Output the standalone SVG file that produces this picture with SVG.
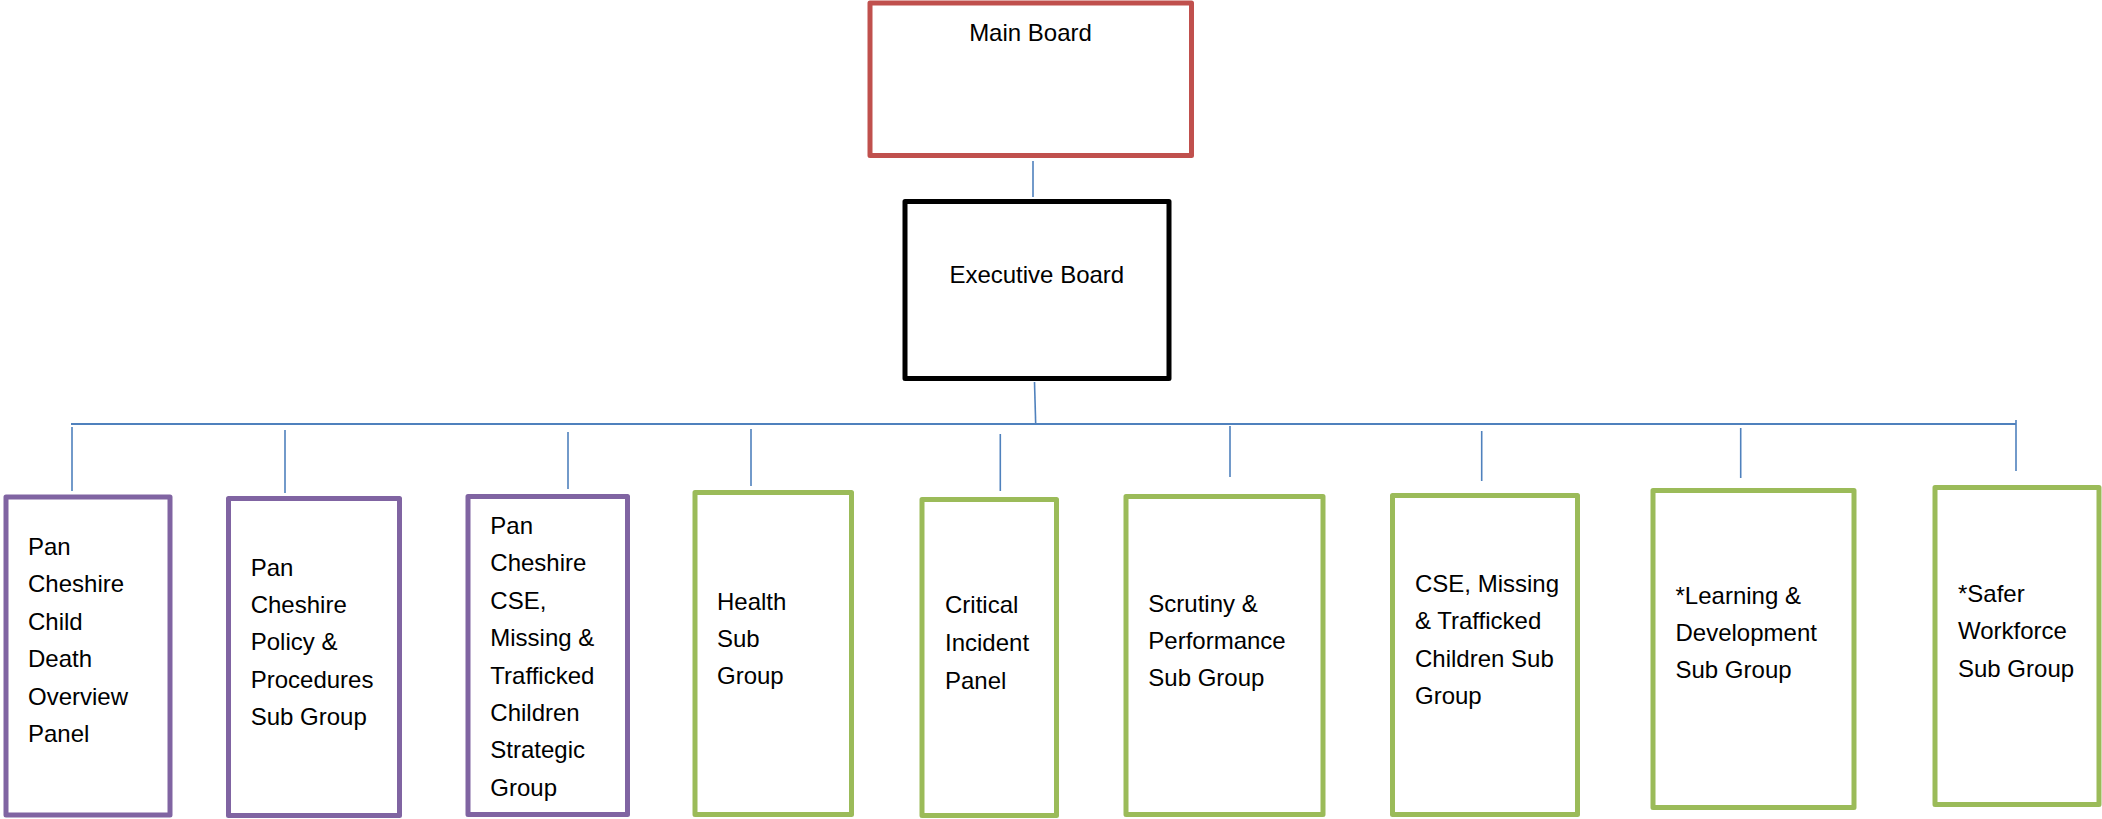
<svg xmlns="http://www.w3.org/2000/svg" width="2102" height="819" viewBox="0 0 2102 819">
<style>
  .box { fill: #ffffff; stroke-width: 5; stroke-linejoin: round; }
  .red { stroke: #C0504D; }
  .black { stroke: #000000; }
  .purple { stroke: #8064A2; }
  .green { stroke: #9BBB59; }
  .lbl { font-family: "Liberation Sans", Arial, sans-serif; font-size: 24px; fill: #000000; }
  .mid { text-anchor: middle; }
  .bus { stroke: #4F81BD; stroke-width: 2.2; fill: none; }
  .tick { stroke: #4F81BD; stroke-width: 1.6; fill: none; }
</style>
<rect width="2102" height="819" fill="#ffffff"/>
<g id="connectors">
  <line class="tick" x1="1033" y1="161" x2="1033" y2="197"/>
  <line class="tick" x1="1034.5" y1="382" x2="1035.7" y2="424"/>
  <line class="bus" x1="71" y1="424" x2="2016" y2="424"/>
  <line class="tick" x1="72" y1="427" x2="72" y2="491"/>
  <line class="tick" x1="285" y1="430" x2="285" y2="493"/>
  <line class="tick" x1="568" y1="432" x2="568" y2="489"/>
  <line class="tick" x1="751" y1="429" x2="751" y2="486"/>
  <line class="tick" x1="1000.3" y1="434" x2="1000.3" y2="491"/>
  <line class="tick" x1="1230" y1="426" x2="1230" y2="477"/>
  <line class="tick" x1="1481.7" y1="431" x2="1481.7" y2="481"/>
  <line class="tick" x1="1740.7" y1="428" x2="1740.7" y2="478"/>
  <line class="tick" x1="2016" y1="420" x2="2016" y2="471"/>
</g>
<g id="main-board">
  <rect class="box red" x="870" y="3" width="321.5" height="152.5"/>
  <text class="lbl mid" x="1030.5" y="41">Main Board</text>
</g>
<g id="executive-board">
  <rect class="box black" x="905" y="201.5" width="264" height="177"/>
  <text class="lbl mid" x="1036.8" y="283">Executive Board</text>
</g>
<g id="child-death-overview">
  <rect class="box purple" x="6" y="497" width="164" height="318"/>
  <text class="lbl" x="28" y="555"><tspan x="28">Pan</tspan><tspan x="28" dy="37.4">Cheshire</tspan><tspan x="28" dy="37.4">Child</tspan><tspan x="28" dy="37.4">Death</tspan><tspan x="28" dy="37.4">Overview</tspan><tspan x="28" dy="37.4">Panel</tspan></text>
</g>
<g id="policy-procedures">
  <rect class="box purple" x="228.5" y="498.5" width="171" height="317"/>
  <text class="lbl" x="250.7" y="576"><tspan x="250.7">Pan</tspan><tspan x="250.7" dy="37.2">Cheshire</tspan><tspan x="250.7" dy="37.2">Policy &amp;</tspan><tspan x="250.7" dy="37.2">Procedures</tspan><tspan x="250.7" dy="37.2">Sub Group</tspan></text>
</g>
<g id="cse-strategic">
  <rect class="box purple" x="468" y="496.5" width="159.5" height="318"/>
  <text class="lbl" x="490.3" y="534"><tspan x="490.3">Pan</tspan><tspan x="490.3" dy="37.4">Cheshire</tspan><tspan x="490.3" dy="37.4">CSE,</tspan><tspan x="490.3" dy="37.4">Missing &amp;</tspan><tspan x="490.3" dy="37.4">Trafficked</tspan><tspan x="490.3" dy="37.4">Children</tspan><tspan x="490.3" dy="37.4">Strategic</tspan><tspan x="490.3" dy="37.4">Group</tspan></text>
</g>
<g id="health">
  <rect class="box green" x="695" y="492.5" width="156.5" height="322"/>
  <text class="lbl" x="717" y="610"><tspan x="717">Health</tspan><tspan x="717" dy="37.2">Sub</tspan><tspan x="717" dy="37.2">Group</tspan></text>
</g>
<g id="critical-incident">
  <rect class="box green" x="922" y="499.5" width="134.5" height="316"/>
  <text class="lbl" x="945" y="613"><tspan x="945">Critical</tspan><tspan x="945" dy="38">Incident</tspan><tspan x="945" dy="38">Panel</tspan></text>
</g>
<g id="scrutiny-performance">
  <rect class="box green" x="1126" y="496.5" width="197" height="318"/>
  <text class="lbl" x="1148.3" y="612"><tspan x="1148.3">Scrutiny &amp;</tspan><tspan x="1148.3" dy="37">Performance</tspan><tspan x="1148.3" dy="37">Sub Group</tspan></text>
</g>
<g id="cse-missing-trafficked">
  <rect class="box green" x="1392.5" y="495.5" width="185" height="319"/>
  <text class="lbl" x="1415" y="592"><tspan x="1415">CSE, Missing</tspan><tspan x="1415" dy="37.4">&amp; Trafficked</tspan><tspan x="1415" dy="37.4">Children Sub</tspan><tspan x="1415" dy="37.4">Group</tspan></text>
</g>
<g id="learning-development">
  <rect class="box green" x="1653" y="490.5" width="201" height="317"/>
  <text class="lbl" x="1675.5" y="604"><tspan x="1675.5">*Learning &amp;</tspan><tspan x="1675.5" dy="37.2">Development</tspan><tspan x="1675.5" dy="37.2">Sub Group</tspan></text>
</g>
<g id="safer-workforce">
  <rect class="box green" x="1935" y="487.5" width="164" height="317"/>
  <text class="lbl" x="1958" y="602"><tspan x="1958">*Safer</tspan><tspan x="1958" dy="37.4">Workforce</tspan><tspan x="1958" dy="37.4">Sub Group</tspan></text>
</g>
</svg>
